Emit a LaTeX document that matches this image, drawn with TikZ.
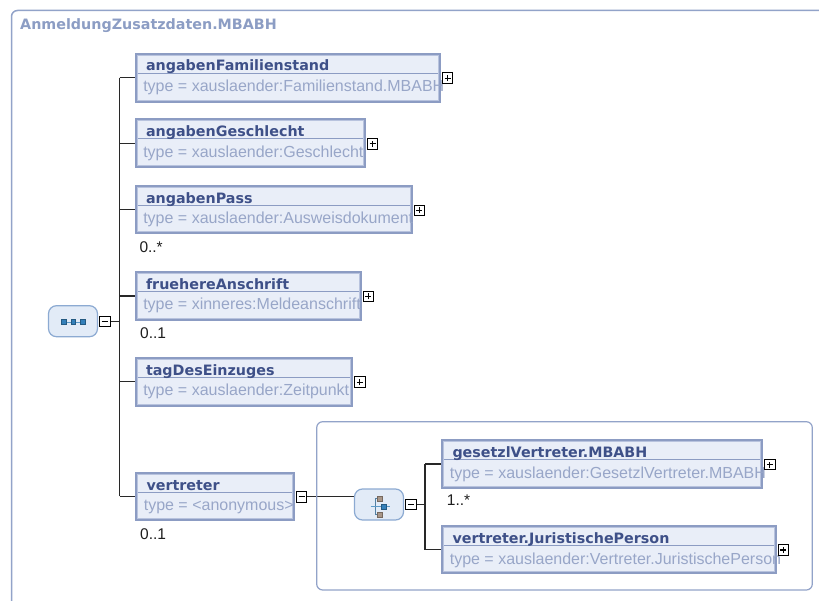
\documentclass[tikz,border=0pt]{standalone}
\usepackage{fontspec}
\setmainfont{Liberation Sans}
\newfontfamily\ttlfont{DejaVu Sans}
\usetikzlibrary{calc}
\pgfdeclarelayer{bg}
\pgfsetlayers{bg,main}
\definecolor{elemb}{RGB}{140,156,195}
\definecolor{elemi}{RGB}{184,195,222}
\definecolor{elemf}{RGB}{233,238,248}
\definecolor{ttlc}{RGB}{62,80,136}
\definecolor{typc}{RGB}{152,166,200}
\definecolor{hdrc}{RGB}{140,157,196}
\definecolor{frmc}{RGB}{146,163,201}
\definecolor{connc}{RGB}{40,40,40}
\definecolor{cardc}{RGB}{30,30,30}
\definecolor{iconf}{RGB}{226,235,247}
\definecolor{iconb}{RGB}{140,170,210}
\definecolor{sqblue}{RGB}{52,128,186}
\definecolor{sqbrown}{RGB}{168,150,136}
\newcommand\elbox[8]{%
  \node[elem, minimum width={#4-#2-3}, minimum height={#5-#3-3}, anchor=north west] (#1) at ({#2+1.5},{#3+1.5}) {};
  \draw[elemi, line width=1pt] ($(#1.north west)+(1,1)$) rectangle ($(#1.south east)+(-1,-1)$);
  \draw[sepl] ($(#1.north west)+(1.5,19)$) -- ($(#1.north east)+(-1.5,19)$);
  \node[ttl] (#1-t) at ($(#1.north west)+(9.8,16.8)$) {#6};
  \node[typ] (#1-y) at ($(#1.north west)+(7.1,37.5)$) {#7};
  \node[#8] (#1-p) at ($(#1.east)+(8,0.5)$) {};
}
\begin{document}
\begin{tikzpicture}[x=1pt,y=-1pt,
  elem/.style={draw=elemb, line width=3pt, fill=elemf, inner sep=0pt, outer sep=0pt, rectangle},
  sepl/.style={draw=elemb, line width=1pt},
  ttl/.style={font=\ttlfont\bfseries\fontsize{14.3}{16}\selectfont, text=ttlc, inner sep=0pt, anchor=base west},
  typ/.style={font=\fontsize{16}{18}\selectfont, text=typc, inner sep=0pt, anchor=base west},
  card/.style={font=\fontsize{15.5}{18}\selectfont, text=cardc, inner sep=0pt, anchor=base west},
  pmbox/.style={draw=black, fill=white, line width=0.9pt, minimum size=10.5pt, inner sep=0pt, outer sep=0pt},
  pmplus/.style={pmbox, path picture={\draw[line width=1.1pt] ([xshift=-3pt]path picture bounding box.center) -- ([xshift=3pt]path picture bounding box.center) ([yshift=-3pt]path picture bounding box.center) -- ([yshift=3pt]path picture bounding box.center);}},
  pmminus/.style={pmbox, path picture={\draw[line width=1.1pt] ([xshift=-3pt]path picture bounding box.center) -- ([xshift=3pt]path picture bounding box.center);}},
  conn/.style={draw=connc, line width=1.3pt},
  icon/.style={draw=iconb, fill=iconf, line width=1.2pt, rounded corners=8pt, inner sep=0pt, outer sep=0pt, minimum width=49pt, minimum height=31pt},
  sqb/.style={draw=sqblue!70!black, fill=sqblue, line width=0.5pt, minimum size=4.5pt, inner sep=0pt},
  sqg/.style={draw=sqbrown!70!black, fill=sqbrown, line width=0.5pt, minimum size=5pt, inner sep=0pt},
  ]
\useasboundingbox (0,0) rectangle (819,601);
% outer frame
\draw[frmc, line width=1.5pt, rounded corners=6pt] (11.5,610) -- (11.5,10.5) -- (830,10.5);
\node[anchor=base west, inner sep=0pt, font=\ttlfont\bfseries\fontsize{14.3}{16}\selectfont, text=hdrc] (hdr) at (20,29.3) {AnmeldungZusatzdaten.MBABH};
% group frame
\draw[frmc, line width=1.2pt, rounded corners=6pt] (316.7,421.7) rectangle (812.3,590);
% elements
\elbox{b1}{134.5}{52.7}{441}{102.7}{angabenFamilienstand}{type = xauslaender:Familienstand.MBABH}{pmplus}
\elbox{b2}{134.5}{118.3}{366}{168.3}{angabenGeschlecht}{type = xauslaender:Geschlecht}{pmplus}
\elbox{b3}{134.5}{185}{412.7}{234.5}{angabenPass}{type = xauslaender:Ausweisdokument}{pmplus}
\elbox{b4}{134.5}{271}{361.7}{321}{fruehereAnschrift}{type = xinneres:Meldeanschrift}{pmplus}
\elbox{b5}{134.5}{356.7}{353.3}{406.7}{tagDesEinzuges}{type = xauslaender:Zeitpunkt}{pmplus}
\elbox{b6}{135}{471.7}{295}{520.7}{vertreter}{type = <anonymous>}{pmminus}
\elbox{b7}{441}{439}{763.3}{489}{gesetzlVertreter.MBABH}{type = xauslaender:GesetzlVertreter.MBABH}{pmplus}
\elbox{b8}{441}{525}{776.7}{574}{vertreter.JuristischePerson}{type = xauslaender:Vertreter.JuristischePerson}{pmplus}
% cardinalities
\node[card] (c3) at (139.3,252.3) {0..*};
\node[card] (c4) at (140,338.2) {0..1};
\node[card] (c6) at (140,539) {0..1};
\node[card] (c7) at (446.7,505) {1..*};
% sequence icon
\node[icon] (seq) at (73,321.2) {};
\draw[sqblue!80!white, line width=0.8pt] (63.5,322) -- (82.5,322);
\node[sqb] (sq1) at (63.5,322) {};
\node[sqb] (sq2) at (73,322) {};
\node[sqb] (sq3) at (82.5,322) {};
\node[pmminus] (seqm) at (104.7,321.3) {};
% choice icon
\node[icon] (cho) at (379,504.5) {};
\draw[sqblue!60!gray, line width=1pt] (380,498.3) -- (375,498.3) -- (375,514.7) -- (380,514.7);
\draw[sqblue!80!white, line width=1pt] (370.7,506.5) -- (390,506.5);
\node[sqg] (cq1) at (380,498.3) {};
\node[sqg] (cq2) at (380,514.7) {};
\node[sqb, minimum size=5pt] (cq3) at (384,506.5) {};
\node[pmminus] (chom) at (410.8,504.5) {};
% connectors
\coordinate (tx) at (119.5,0);
\coordinate (tx2) at (425,0);
\begin{pgfonlayer}{bg}
\fill[white] (0,0) rectangle (819,601);
\draw[conn] (seqm.east) -- (seqm.east -| tx);
\draw[conn] (b1.west -| tx) -- (b6.west -| tx);
\foreach \b in {b1,b2,b3,b4,b5,b6} {\draw[conn] (\b.west -| tx) -- (\b.west);}
\draw[conn] (b6-p.east) -- (b6-p.east -| cho.west);
\draw[conn] (chom.east) -- (chom.east -| tx2);
\draw[conn] (b7.west -| tx2) -- (b8.west -| tx2);
\draw[conn] (b7.west -| tx2) -- (b7.west);
\draw[conn] (b8.west -| tx2) -- (b8.west);
\end{pgfonlayer}
\end{tikzpicture}
\end{document}
